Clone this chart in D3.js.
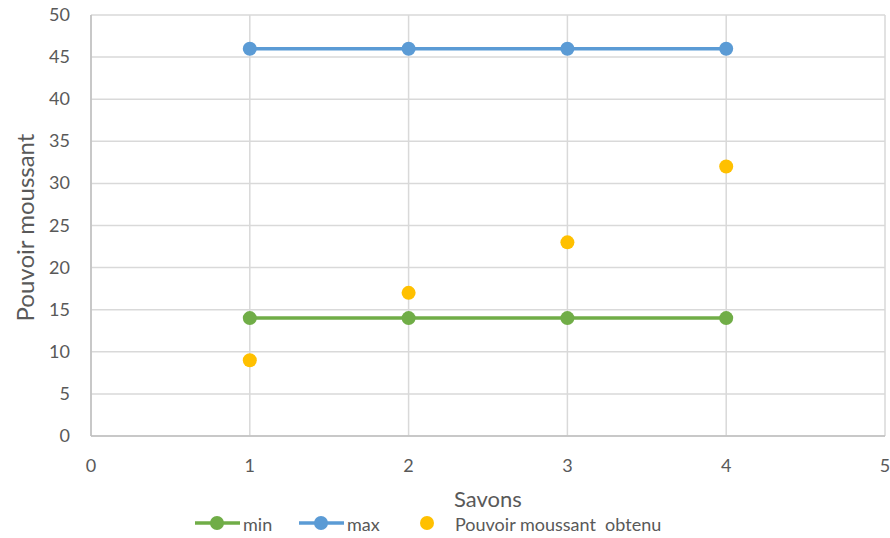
<!DOCTYPE html>
<html>
<head>
<meta charset="utf-8">
<script src="https://cdn.jsdelivr.net/npm/d3@7"></script>
<style>
  body { margin: 0; background: #fff; }
  text { font-family: Lato, "Open Sans", sans-serif; fill: #595959; }
</style>
</head>
<body>
<svg id="chart" width="890" height="538"></svg>
<script>
const savons = [1, 2, 3, 4]
const minValues = [14, 14, 14, 14]
const maxValues = [46, 46, 46, 46]
const obtenu = [9, 17, 23, 32]
const xTicks = [0, 1, 2, 3, 4, 5]
const yTicks = [0, 5, 10, 15, 20, 25, 30, 35, 40, 45, 50]

const green = "#70ad47"
const blue = "#5b9bd5"
const yellow = "#ffc000"

const svg = d3.select('#chart')
const margin = { left: 91, right: 5, top: 15, bottom: 102 }
const width = 890
const height = 538

const x = d3.scaleLinear().domain([0, 5]).range([margin.left, width - margin.right])
const y = d3.scaleLinear().domain([0, 50]).range([height - margin.bottom, margin.top])

// gridlines
svg.append('g')
    .selectAll('line')
    .data(yTicks)
    .join('line')
    .attr('x1', x(0)).attr('x2', x(5))
    .attr('y1', d => y(d)).attr('y2', d => y(d))
    .attr('stroke', '#d9d9d9').attr('stroke-width', 1.5)

svg.append('g')
    .selectAll('line')
    .data(xTicks)
    .join('line')
    .attr('x1', d => x(d)).attr('x2', d => x(d))
    .attr('y1', y(0)).attr('y2', y(50))
    .attr('stroke', '#d9d9d9').attr('stroke-width', 1.5)

// axis lines
svg.append('line')
    .attr('x1', x(0)).attr('x2', x(5)).attr('y1', y(0)).attr('y2', y(0))
    .attr('stroke', '#bfbfbf').attr('stroke-width', 1.5)
svg.append('line')
    .attr('x1', x(0)).attr('x2', x(0)).attr('y1', y(0)).attr('y2', y(50))
    .attr('stroke', '#bfbfbf').attr('stroke-width', 1.5)

// tick labels
svg.append('g')
    .selectAll('text')
    .data(yTicks)
    .join('text')
    .attr('x', 70)
    .attr('y', d => y(d) + 6)
    .attr('text-anchor', 'end')
    .attr('font-size', 18)
    .text(d => d)

svg.append('g')
    .selectAll('text')
    .data(xTicks)
    .join('text')
    .attr('x', d => x(d))
    .attr('y', 472)
    .attr('text-anchor', 'middle')
    .attr('font-size', 18)
    .text(d => d)

// axis titles
svg.append('text')
    .attr('x', 488).attr('y', 507)
    .attr('text-anchor', 'middle')
    .attr('font-size', 22)
    .text('Savons')

svg.append('text')
    .attr('transform', `translate(34,${(y(0) + y(50)) / 2 + 2}) rotate(-90)`)
    .attr('text-anchor', 'middle')
    .attr('font-size', 24)
    .text('Pouvoir moussant')

// series
const line = d3.line().x((d, i) => x(savons[i])).y(d => y(d))

const series = [
    { name: 'min', values: minValues, color: green },
    { name: 'max', values: maxValues, color: blue }
]

series.forEach(s => {
    svg.append('path')
        .datum(s.values)
        .attr('d', line)
        .attr('fill', 'none')
        .attr('stroke', s.color)
        .attr('stroke-width', 3.5)
    svg.append('g')
        .selectAll('circle')
        .data(s.values)
        .join('circle')
        .attr('cx', (d, i) => x(savons[i]))
        .attr('cy', d => y(d))
        .attr('r', 7)
        .attr('fill', s.color)
})

svg.append('g')
    .selectAll('circle')
    .data(obtenu)
    .join('circle')
    .attr('cx', (d, i) => x(savons[i]))
    .attr('cy', d => y(d))
    .attr('r', 7)
    .attr('fill', yellow)

// legend
const legY = 523
const legend = svg.append('g')
const legItems = [
    { label: 'min', color: green, x0: 195, line: true },
    { label: 'max', color: blue, x0: 299, line: true },
    { label: 'Pouvoir moussant  obtenu', color: yellow, x0: 405, line: false }
]
legItems.forEach(it => {
    if (it.line) {
        legend.append('line')
            .attr('x1', it.x0).attr('x2', it.x0 + 45)
            .attr('y1', legY).attr('y2', legY)
            .attr('stroke', it.color).attr('stroke-width', 3.5)
    }
    legend.append('circle')
        .attr('cx', it.x0 + 22).attr('cy', legY).attr('r', 7)
        .attr('fill', it.color)
    legend.append('text')
        .attr('x', it.line ? it.x0 + 48 : it.x0 + 50)
        .attr('y', legY + 8)
        .attr('font-size', 18)
        .style('white-space', 'pre')
        .text(it.label)
})
</script>
</body>
</html>
